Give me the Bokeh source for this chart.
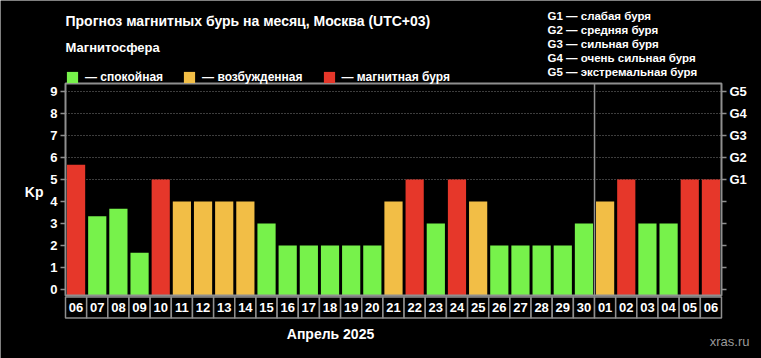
from bokeh.plotting import figure
from bokeh.models import (ColumnDataSource, FixedTicker, LinearAxis, Label, Legend,
                          LegendItem, Range1d)
from bokeh.core.properties import value
from bokeh.embed import file_html
from bokeh.resources import INLINE

# ---------------- data ----------------
days = ["06", "07", "08", "09", "10", "11", "12", "13", "14", "15", "16", "17", "18",
        "19", "20", "21", "22", "23", "24", "25", "26", "27", "28", "29", "30",
        "01", "02", "03", "04", "05", "06"]
kp = [5.67, 3.33, 3.67, 1.67, 5, 4, 4, 4, 4, 3, 2, 2, 2, 2, 2, 4, 5, 3, 5, 4,
      2, 2, 2, 2, 3, 4, 5, 3, 3, 5, 5]
state = ["storm", "quiet", "quiet", "quiet", "storm", "active", "active", "active",
         "active", "quiet", "quiet", "quiet", "quiet", "quiet", "quiet", "active",
         "storm", "quiet", "storm", "active", "quiet", "quiet", "quiet", "quiet",
         "quiet", "active", "storm", "quiet", "quiet", "storm", "storm"]
kp_ticks = [0, 1, 2, 3, 4, 5, 6, 7, 8, 9]
g_ticks = [5, 6, 7, 8, 9]
g_names = ["G1", "G2", "G3", "G4", "G5"]
g_descr = ["G1 — слабая буря", "G2 — средняя буря", "G3 — сильная буря",
           "G4 — очень сильная буря", "G5 — экстремальная буря"]
state_order = ["quiet", "active", "storm"]
state_labels = {"quiet": "— спокойная", "active": "— возбужденная", "storm": "— магнитная буря"}
month_break = 25  # index of first day of the next month
title_text = "Прогноз магнитных бурь на месяц, Москва (UTC+03)"
subtitle_text = "Магнитосфера"
xlabel_text = "Апрель 2025"
ylabel_text = "Kp"
ylabel_pos = 4.45
credit_text = "xras.ru"

# ---------------- style / layout ----------------
FONT = "Liberation Sans"
colors = {"quiet": "#77f24b", "active": "#f2be46", "storm": "#e6372a"}
GRAY = "#8f8f8f"
W, H = 761, 358
XPX = 21.161                    # px per category
X0PX = 65                       # page px of x = -0.5
YPX = 22.0                      # px per Kp unit
Y0PX = 289                      # page px of Kp = 0

def px2x(px):
    return -0.5 + (px - X0PX) / XPX

def px2y(py):
    return (Y0PX - py) / YPX

n = len(days)
idx = list(range(n))
frame_bottom = px2y(295)
frame_top = px2y(83)
box_top = px2y(296.5)
box_bot = px2y(317.5)

p = figure(width=W, height=H, output_backend="svg", toolbar_location=None,
           x_range=Range1d(px2x(0), px2x(W)), y_range=Range1d(px2y(H), px2y(0)),
           x_axis_location=None,
           min_border_left=0, min_border_right=0, min_border_top=0, min_border_bottom=0,
           background_fill_color="black", border_fill_color="black",
           outline_line_color=None)
p.grid.visible = False

# dotted grid at G levels
p.segment(x0=[-0.5] * len(g_ticks), x1=[n - 0.5] * len(g_ticks), y0=g_ticks, y1=g_ticks,
          line_color="#7a7a7a", line_width=1, line_dash="1 2")

# bars
items = []
for s in state_order:
    xs = [i for i in idx if state[i] == s]
    tops = [kp[i] for i in idx if state[i] == s]
    src = ColumnDataSource(dict(x=xs, top=tops))
    r = p.vbar(x="x", top="top", bottom=frame_bottom, width=0.86, source=src,
               fill_color=colors[s], line_color=None)
    items.append(LegendItem(label=state_labels[s], renderers=[r]))

# frame and month separator
p.quad(left=-0.5, right=n - 0.5, bottom=frame_bottom, top=frame_top,
       fill_color=None, line_color=GRAY, line_width=2)
p.segment(x0=[month_break - 0.5], x1=[month_break - 0.5], y0=[frame_bottom], y1=[frame_top],
          line_color=GRAY, line_width=1.5)

# day label boxes
p.quad(left=[i - 0.5 for i in idx], right=[i + 0.5 for i in idx], bottom=box_bot, top=box_top,
       fill_color="black", line_color=GRAY, line_width=1.5)
p.text(x=idx, y=(box_top + box_bot) / 2, text=days, text_align="center",
       text_baseline="middle", text_color="white", text_font=value(FONT),
       text_font_style="bold", text_font_size="13px")

axis_style = dict(axis_line_color=None, major_tick_line_color=GRAY, major_tick_line_width=1.5,
                  major_tick_out=5, major_tick_in=0, minor_tick_line_color=None,
                  major_label_text_color="white", major_label_text_font=FONT,
                  major_label_text_font_style="bold", major_label_text_font_size="13px",
                  major_label_standoff=3)

# left Kp axis, fixed on the frame's left edge
ya = p.yaxis[0]
ya.ticker = FixedTicker(ticks=kp_ticks)
ya.fixed_location = -0.5
for k, v in axis_style.items():
    setattr(ya, k, v)

# "Kp" title as an outer left axis label
ka = LinearAxis(ticker=FixedTicker(ticks=[ylabel_pos]),
                major_label_overrides={ylabel_pos: ylabel_text},
                fixed_location=px2x(46),
                axis_line_color=None, major_tick_line_color=None, minor_tick_line_color=None,
                major_tick_out=0, major_tick_in=0, major_label_standoff=3,
                major_label_text_color="white", major_label_text_font=FONT,
                major_label_text_font_style="bold", major_label_text_font_size="14px")
p.add_layout(ka, "left")

# right G axis
ga = LinearAxis(ticker=FixedTicker(ticks=kp_ticks),
                major_label_overrides={t: (g_names[g_ticks.index(t)] if t in g_ticks else "")
                                       for t in kp_ticks},
                fixed_location=n - 0.5, **axis_style)
p.add_layout(ga, "right")

# legend
legend = Legend(items=items, orientation="horizontal", location=(X0PX, H - 84),
                glyph_width=14, glyph_height=14, label_height=14, label_width=14,
                label_standoff=6, spacing=19, padding=0, margin=0,
                background_fill_alpha=0, border_line_alpha=0,
                label_text_color="white", label_text_font=FONT,
                label_text_font_style="bold", label_text_font_size="12px")
p.add_layout(legend)

def lab(text, px, py, size="13px", align="left", color="white", style="bold"):
    p.add_layout(Label(text=text, x=px2x(px), y=px2y(py),
                       text_align=align, text_baseline="middle", text_color=color,
                       text_font=FONT, text_font_style=style, text_font_size=size))

lab(title_text, 65, 20, "14px")
lab(subtitle_text, 65, 47, "13px")
for k, t in enumerate(g_descr):
    lab(t, 547, 15 + 14.2 * k, "11.5px")
lab(xlabel_text, 330, 333, "14px", align="center")
lab(credit_text, 749, 341, "13px", align="right", color="#9a9a9a", style="normal")

open("out.html", "w").write(file_html(p, INLINE, title="Kp forecast"))
